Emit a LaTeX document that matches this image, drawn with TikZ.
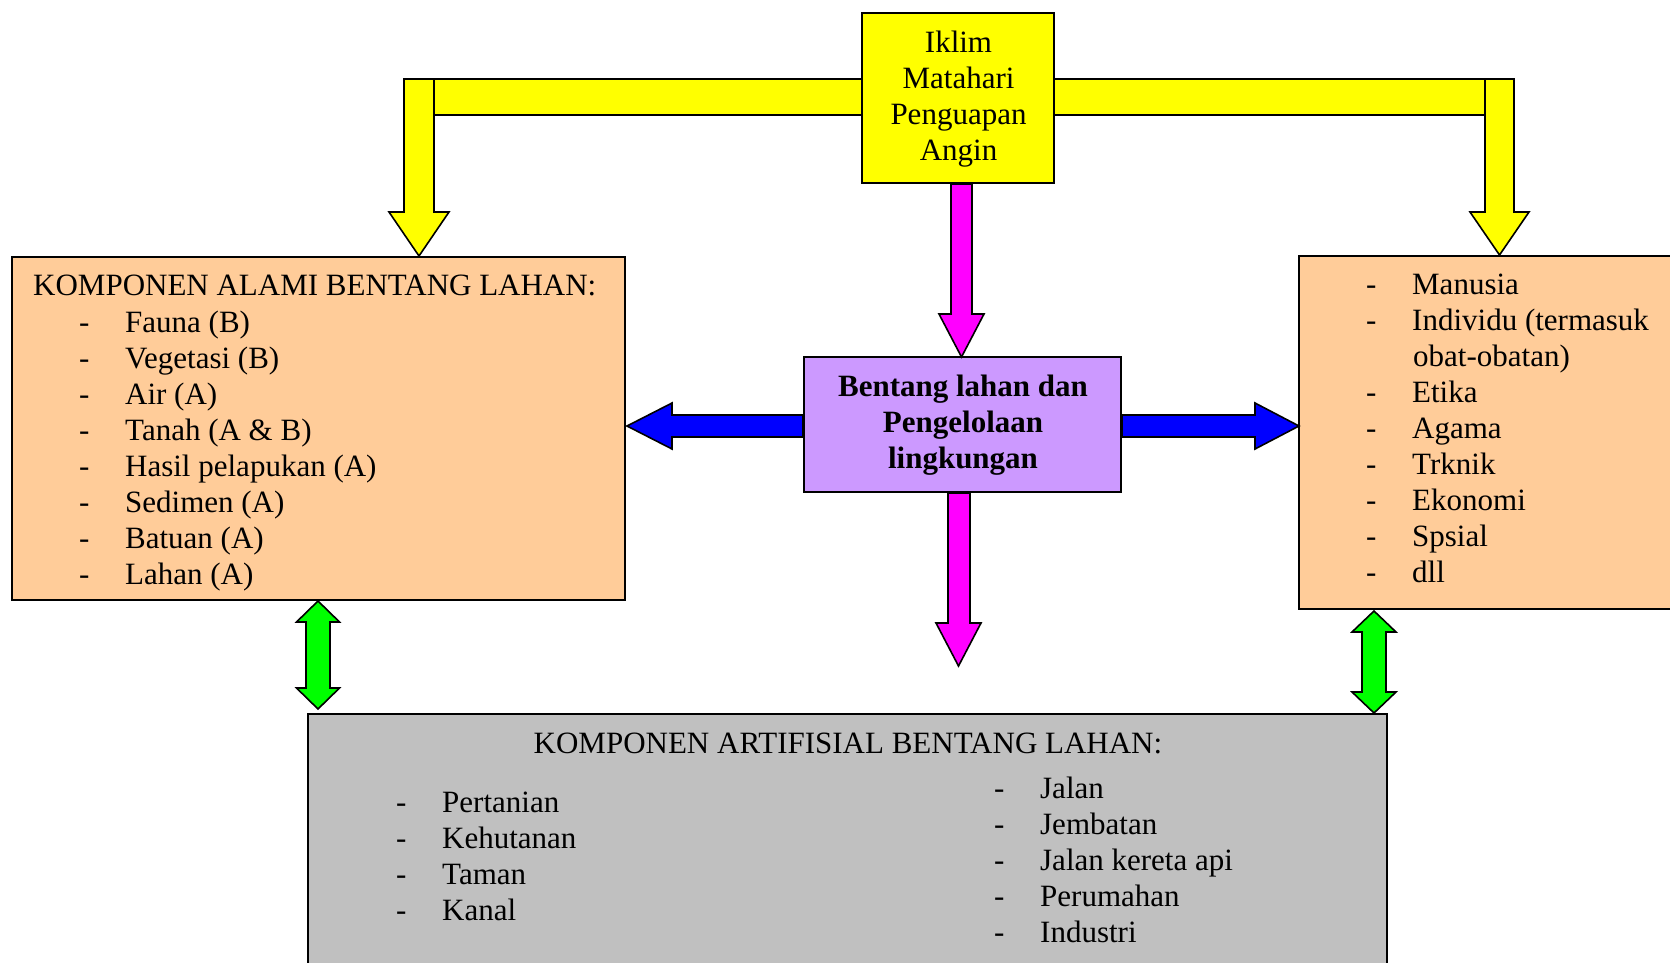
\documentclass[tikz,border=0pt]{standalone}
\usepackage{fontspec}
\setmainfont{Liberation Serif}
\definecolor{cyellow}{HTML}{FFFF00}
\definecolor{cmagenta}{HTML}{FF00FF}
\definecolor{cblue}{HTML}{0000FF}
\definecolor{cgreen}{HTML}{00FF00}
\definecolor{cpeach}{HTML}{FFCC99}
\definecolor{clav}{HTML}{CC99FF}
\definecolor{cgray}{HTML}{C0C0C0}
\newcommand\bigtxt{\fontsize{31}{36}\selectfont}
\newcommand\iklimtxt{\fontsize{31}{35.7}\selectfont}
\newcommand\dashitem{\makebox[46pt][l]{-}}
\begin{document}
\begin{tikzpicture}[x=1pt,y=-1pt,
  box/.style={draw=black,line width=1.6pt,inner sep=0pt,outer sep=0pt,anchor=north west},
  blk/.style={draw=black,line width=1.6pt,line join=miter},
  txt/.style={inner sep=0pt,font=\bigtxt,anchor=base west},
  ctxt/.style={inner sep=0pt,font=\bigtxt,anchor=base},
]
\useasboundingbox (0,0) rectangle (1670,963);

% ---------- boxes ----------
\node[box,fill=cyellow,minimum width=192pt,minimum height=170pt] (iklim) at (862,13) {};
\node[box,fill=cpeach,minimum width=613pt,minimum height=343pt] (alami) at (12,257) {};
\node[box,fill=cpeach,minimum width=420pt,minimum height=353pt] (manusia) at (1299,256) {};
\node[box,fill=clav,minimum width=317pt,minimum height=135pt] (bentang) at (804,357) {};
\node[box,fill=cgray,minimum width=1079pt,minimum height=320pt] (artifisial) at (308,714) {};

% ---------- yellow bent arrows ----------
\draw[blk,fill=cyellow] (434,79) rectangle (iklim.west |- 0,115);
\draw[blk,fill=cyellow] (404,79) -- (434,79) -- (434,212) -- (449,212) -- (419,256)
  -- (389,212) -- (404,212) -- cycle;
\draw[blk,fill=cyellow] (iklim.east |- 0,79) rectangle (1485,115);
\draw[blk,fill=cyellow] (1485,79) -- (1514,79) -- (1514,212) -- (1529,212) -- (1499.5,255)
  -- (1470,212) -- (1485,212) -- cycle;

% ---------- magenta arrows ----------
\draw[blk,fill=cmagenta] (951,184) -- (972,184) -- (972,314) -- (984,314) -- (961.5,357)
  -- (939,314) -- (951,314) -- cycle;
\draw[blk,fill=cmagenta] (948,493) -- (970,493) -- (970,623) -- (981,623) -- (958.5,666)
  -- (936,623) -- (948,623) -- cycle;

% ---------- blue arrows ----------
\draw[blk,fill=cblue] (803,415) -- (672,415) -- (672,403) -- (627,426) -- (672,449)
  -- (672,437) -- (803,437) -- cycle;
\draw[blk,fill=cblue] (1122,415) -- (1255,415) -- (1255,403) -- (1299,426) -- (1255,449)
  -- (1255,437) -- (1122,437) -- cycle;

% ---------- green double arrows ----------
\draw[blk,fill=cgreen] (318,601) -- (339.5,622) -- (330,622) -- (330,688) -- (339.5,688)
  -- (318,709) -- (296.5,688) -- (306,688) -- (306,622) -- (296.5,622) -- cycle;
\draw[blk,fill=cgreen] (1374,611) -- (1396,632) -- (1386,632) -- (1386,692) -- (1396,692)
  -- (1374,713) -- (1352,692) -- (1362,692) -- (1362,632) -- (1352,632) -- cycle;

% redraw box borders over arrow ends
\draw[line width=1.6pt] (iklim.south west) rectangle (iklim.north east);
\draw[line width=1.6pt] (bentang.south west) rectangle (bentang.north east);

% ---------- texts ----------
\node[inner sep=0pt,font=\iklimtxt,anchor=base] (iklimtext) at (958.5,53)
  {\begin{tabular}[t]{@{}c@{}}Iklim\\Matahari\\Penguapan\\Angin\end{tabular}};

\node[ctxt,font=\bigtxt\bfseries] (bentangtext) at (963,396)
  {\begin{tabular}[t]{@{}c@{}}Bentang lahan dan\\Pengelolaan\\lingkungan\end{tabular}};

\node[txt] (alamititle) at (33,295) {KOMPONEN ALAMI BENTANG LAHAN:};
\node[txt] (alamilist) at (79,332)
  {\begin{tabular}[t]{@{}l@{}}
  \dashitem Fauna (B)\\
  \dashitem Vegetasi (B)\\
  \dashitem Air (A)\\
  \dashitem Tanah (A \& B)\\
  \dashitem Hasil pelapukan (A)\\
  \dashitem Sedimen (A)\\
  \dashitem Batuan (A)\\
  \dashitem Lahan (A)
  \end{tabular}};

\node[txt] (manusialist) at (1366,294)
  {\begin{tabular}[t]{@{}l@{}}
  \dashitem Manusia\\
  \dashitem Individu (termasuk\\
  \\
  \dashitem Etika\\
  \dashitem Agama\\
  \dashitem Trknik\\
  \dashitem Ekonomi\\
  \dashitem Spsial\\
  \dashitem dll
  \end{tabular}};
\node[txt] (obat) at (1413,366) {obat-obatan)};

\node[ctxt] (artititle) at (848,753) {KOMPONEN ARTIFISIAL BENTANG LAHAN:};
\node[txt] (artileft) at (396,812)
  {\begin{tabular}[t]{@{}l@{}}
  \dashitem Pertanian\\
  \dashitem Kehutanan\\
  \dashitem Taman\\
  \dashitem Kanal
  \end{tabular}};
\node[txt] (artiright) at (994,798)
  {\begin{tabular}[t]{@{}l@{}}
  \dashitem Jalan\\
  \dashitem Jembatan\\
  \dashitem Jalan kereta api\\
  \dashitem Perumahan\\
  \dashitem Industri
  \end{tabular}};
\end{tikzpicture}
\end{document}
